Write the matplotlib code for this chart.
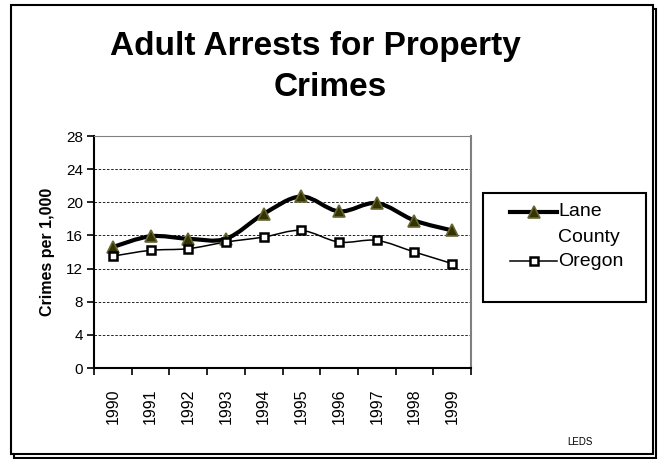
import numpy as np
import matplotlib.pyplot as plt
from matplotlib.path import Path
from matplotlib.patches import PathPatch, Rectangle
from matplotlib.lines import Line2D

plt.rcParams['font.family'] = ['Liberation Sans', 'DejaVu Sans']

years = ['1990', '1991', '1992', '1993', '1994', '1995', '1996', '1997', '1998', '1999']
lane_county = [14.6, 15.9, 15.6, 15.6, 18.6, 20.7, 18.9, 19.9, 17.8, 16.6]
oregon = [13.5, 14.2, 14.4, 15.2, 15.8, 16.6, 15.2, 15.4, 14.0, 12.6]
y_ticks = [0, 4, 8, 12, 16, 20, 24, 28]


def smooth_path(x, y):
    # Excel style smoothed line: cubic bezier through every point
    n = len(x)
    verts = [(x[0], y[0])]
    codes = [Path.MOVETO]
    for i in range(n - 1):
        a = max(i - 1, 0)
        b = min(i + 2, n - 1)
        c1 = (x[i] + (x[i + 1] - x[a]) / 6, y[i] + (y[i + 1] - y[a]) / 6)
        c2 = (x[i + 1] - (x[b] - x[i]) / 6, y[i + 1] - (y[b] - y[i]) / 6)
        verts += [c1, c2, (x[i + 1], y[i + 1])]
        codes += [Path.CURVE4] * 3
    return Path(verts, codes)


fig = plt.figure(figsize=(6.61, 4.59), dpi=100)
W, H = 661, 459

# slide frame with shadow
fig.patches.append(Rectangle((14 / W, 1 - 458 / H), 642 / W, 449 / H, transform=fig.transFigure,
                             facecolor='none', edgecolor='black', lw=1.5, zorder=-3))
fig.patches.append(Rectangle((11 / W, 1 - 454 / H), 642 / W, 449 / H, transform=fig.transFigure,
                             facecolor='white', edgecolor='black', lw=1.5, zorder=-2))

fig.text(315 / W, 1 - 47 / H, 'Adult Arrests for Property', ha='center', va='center',
         fontsize=24, fontweight='bold')
fig.text(330 / W, 1 - 87 / H, 'Crimes', ha='center', va='center',
         fontsize=24, fontweight='bold')

ax = fig.add_axes([94 / W, 1 - 368 / H, 377 / W, 232 / H])
ax.set_zorder(1)
x = np.arange(len(years))

lane_style = dict(marker='^', markersize=8, markerfacecolor='#333300',
                  markeredgecolor='#666633', markeredgewidth=1.2)
oregon_style = dict(marker='s', markersize=6, markerfacecolor='white',
                    markeredgecolor='black', markeredgewidth=1.8)

ax.add_patch(PathPatch(smooth_path(x, lane_county), facecolor='none', edgecolor='black', lw=3, zorder=3))
ax.plot(x, lane_county, linestyle='none', zorder=4, **lane_style)
ax.add_patch(PathPatch(smooth_path(x, oregon), facecolor='none', edgecolor='black', lw=1.1, zorder=3))
ax.plot(x, oregon, linestyle='none', zorder=4, **oregon_style)

ax.set_xlim(-0.5, 9.5)
ax.set_ylim(0, 28)
ax.set_yticks(y_ticks)
ax.tick_params(axis='y', labelsize=11, length=5, width=1.2, direction='out', pad=3)
for yv in y_ticks[1:-1]:
    ax.axhline(yv, color='black', lw=0.6, linestyle=(0, (3, 2)), zorder=1)

ax.set_xticks(np.arange(-0.5, 10, 1))
ax.set_xticklabels([])
ax.set_xticks(x, minor=True)
ax.set_xticklabels(years, minor=True, rotation=90)
ax.tick_params(axis='x', which='major', length=5, width=1.2, direction='out')
ax.tick_params(axis='x', which='minor', length=0, labelsize=11.5, pad=15)

ax.spines['left'].set_linewidth(1.5)
ax.spines['bottom'].set_linewidth(1.5)
ax.spines['top'].set_color('#808080')
ax.spines['right'].set_color('#808080')
ax.spines['right'].set_linewidth(1.5)

ax.set_ylabel('Crimes per 1,000', fontsize=11.5, fontweight='bold', labelpad=8)

# legend box drawn by hand
fig.patches.append(Rectangle((483 / W, 1 - 302 / H), 163 / W, 109 / H, transform=fig.transFigure,
                             facecolor='white', edgecolor='black', lw=1.5))
fig.lines.append(Line2D([510 / W, 557 / W], [1 - 212 / H] * 2, transform=fig.transFigure,
                        color='black', lw=3))
fig.lines.append(Line2D([533.5 / W], [1 - 212 / H], transform=fig.transFigure, **lane_style))
fig.lines.append(Line2D([510 / W, 557 / W], [1 - 261 / H] * 2, transform=fig.transFigure,
                        color='black', lw=1.1))
fig.lines.append(Line2D([533.5 / W], [1 - 261 / H], transform=fig.transFigure, **oregon_style))
fig.text(558 / W, 1 - 212 / H, 'Lane', ha='left', va='center', fontsize=14)
fig.text(558 / W, 1 - 237 / H, 'County', ha='left', va='center', fontsize=14)
fig.text(558 / W, 1 - 261 / H, 'Oregon', ha='left', va='center', fontsize=14)

fig.text(580 / W, 1 - 442 / H, 'LEDS', ha='center', va='center', fontsize=7)

fig.savefig('out.png', dpi=100)
